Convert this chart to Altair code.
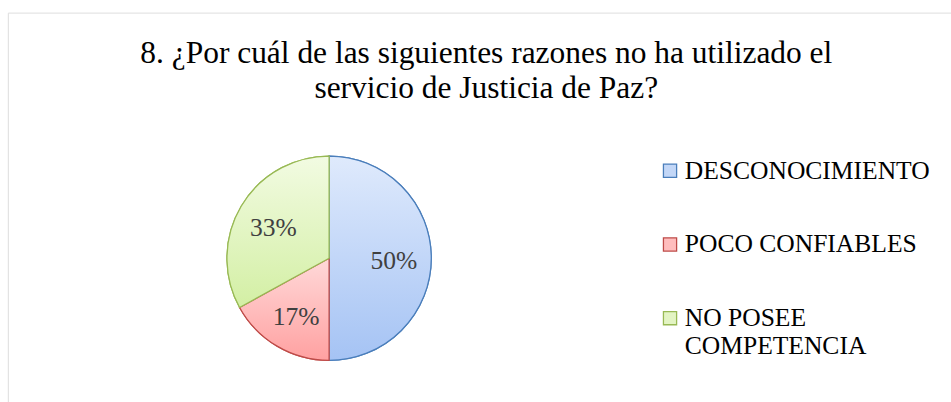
import altair as alt
import pandas as pd
import math

categories = ["DESCONOCIMIENTO", "POCO CONFIABLES", "NO POSEE COMPETENCIA"]
values = [50, 17, 33]
labels = ["50%", "17%", "33%"]

solid_fill = ["#c3d7f7", "#ffbdbd", "#e3f4c3"]
edge = ["#4a7ebb", "#be4b48", "#98b954"]
grad_top = ["#dfeafc", "#ffd9d9", "#f2fbe2"]
grad_bottom = ["#a5c3f4", "#ffa1a1", "#d3efa4"]

df = pd.DataFrame({"cat": categories, "val": values, "lab": labels, "ord": list(range(len(categories)))})

CX, CY, R = 327, 250, 104

base = alt.Chart(df).transform_window(
    cum="sum(val)", sort=[alt.SortField("ord")]
).transform_calculate(start="datum.cum - datum.val")

theta_scale = alt.Scale(domain=[0, 100], range=[0, 2 * math.pi])

legend_layer = base.mark_arc(outerRadius=R, strokeWidth=1.2).encode(
    theta=alt.Theta("start:Q", scale=theta_scale),
    theta2="cum:Q",
    x=alt.value(CX), y=alt.value(CY),
    color=alt.Color("cat:N", scale=alt.Scale(domain=categories, range=solid_fill),
                    legend=alt.Legend(title=None, orient="none", legendX=661, legendY=148,
                                      symbolType="square", symbolSize=180, symbolStrokeWidth=1.3,
                                      labelFont="Liberation Serif", labelFontSize=26,
                                      labelColor="#000000", labelLimit=400, rowPadding=49,
                                      labelOffset=2,
                                      labelExpr="datum.label == 'NO POSEE COMPETENCIA' ? ['NO POSEE', 'COMPETENCIA'] : datum.label")),
    stroke=alt.Stroke("cat:N", scale=alt.Scale(domain=categories, range=edge)),
)

layers = [legend_layer]
for i, c in enumerate(categories):
    g = alt.Gradient(gradient="linear", x1=0, y1=0, x2=0, y2=1,
                     stops=[alt.GradientStop(color=grad_top[i], offset=0),
                            alt.GradientStop(color=grad_bottom[i], offset=1)])
    layers.append(
        base.transform_filter(alt.datum.cat == c).mark_arc(
            outerRadius=R, fill=g, stroke=edge[i], strokeWidth=1.3
        ).encode(
            theta=alt.Theta("start:Q", scale=theta_scale),
            theta2="cum:Q",
            x=alt.value(CX), y=alt.value(CY),
        )
    )

text_layer = base.transform_calculate(mid="datum.start + datum.val / 2").mark_text(
    font="Liberation Serif", fontSize=26, color="#404040", radius=66, dy=3
).encode(
    theta=alt.Theta("mid:Q", scale=theta_scale),
    x=alt.value(CX), y=alt.value(CY),
    text="lab:N",
)
layers.append(text_layer)

chart = alt.layer(*layers).properties(
    width=960, height=420,
    padding={"left": 8, "top": 9, "right": 0, "bottom": 0},
    autosize=alt.AutoSizeParams(type="none"),
    title=alt.TitleParams(
        text=["8. ¿Por cuál de las siguientes razones no ha utilizado el", "servicio de Justicia de Paz?"],
        font="Liberation Serif", fontSize=32, fontWeight="normal", color="#000000",
        anchor="middle", frame="group", dx=7, offset=-94, lineHeight=36,
    ),
).configure_view(stroke="#d9d9d9", strokeWidth=1.5).configure(background="white")

chart.save("out.html", embed_options={"renderer": "svg", "actions": False})
